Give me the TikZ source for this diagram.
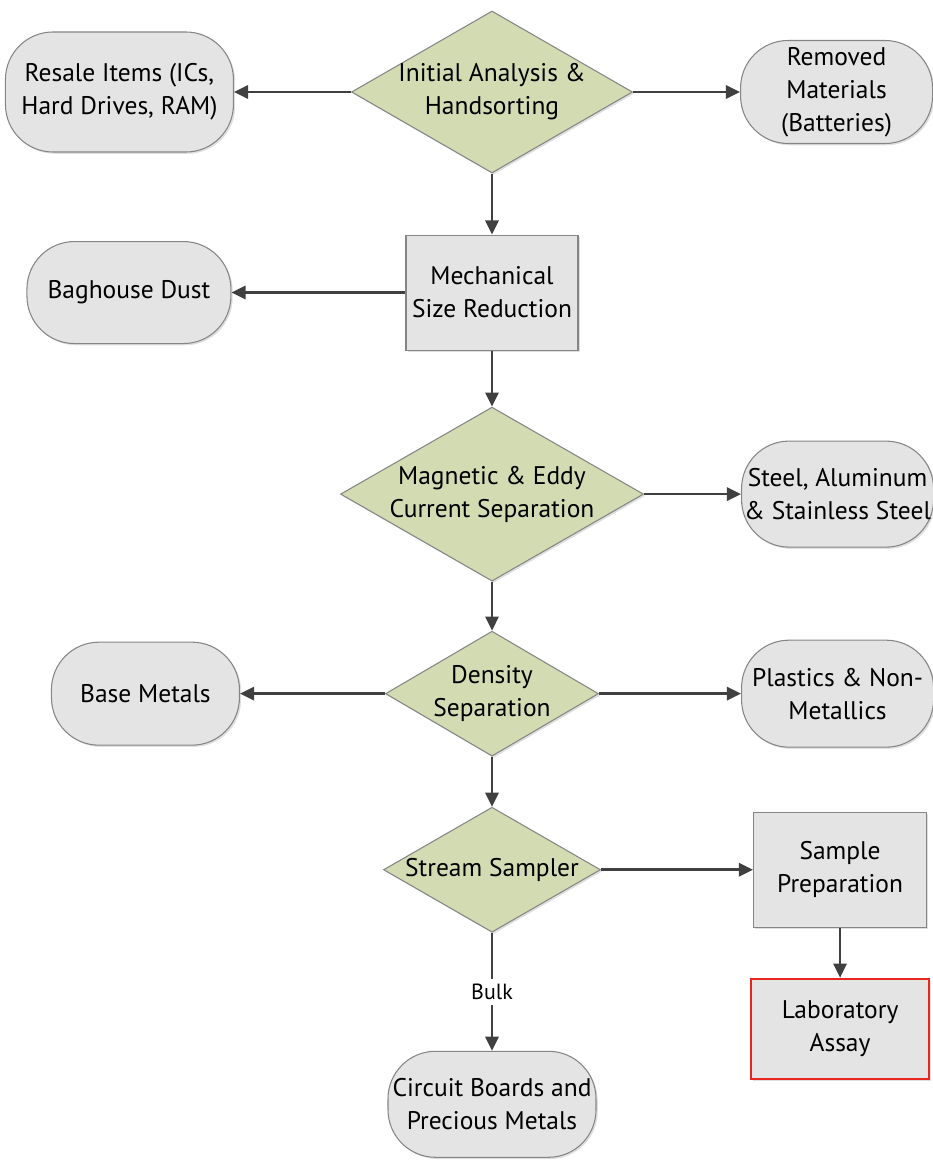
\documentclass[tikz,border=0pt]{standalone}
\usepackage{fontspec}
\setmainfont{PT Sans}
\usetikzlibrary{
  positioning,
  shapes.geometric,
  arrows.meta,
  shadows,
}
\definecolor{decisiongreen}{HTML}{D3DBB3}
\definecolor{boxgray}{HTML}{E4E4E4}
\definecolor{edgegray}{HTML}{858585}
\definecolor{arrowgray}{HTML}{404040}
\definecolor{assayred}{HTML}{E8251F}
\tikzset{
  base/.style={draw=edgegray, line width=0.6pt, align=center, inner sep=0pt,
    font=\fontsize{14.5}{18.8}\selectfont,
    drop shadow={shadow xshift=1pt, shadow yshift=-1pt, opacity=0.25}},
  decision/.style={base, diamond, aspect=1.74, inner sep=-0.5cm, fill=decisiongreen},
  process/.style={base, rectangle, fill=boxgray},
  outcome/.style={base, rectangle, rounded corners=0.95cm, fill=boxgray},
  flow/.style={draw=arrowgray, line width=1.4pt, -{Triangle[length=8pt,width=7.5pt]}},
}

\begin{document}
\begin{tikzpicture}
    \useasboundingbox (0,0) rectangle (18.64,-23.22);
    \node [decision, minimum width=5.62cm, minimum height=3.24cm] (IA) at (9.84,-1.84) {Initial Analysis \&\\Handsorting};
    \node [outcome, minimum width=4.56cm, minimum height=2.4cm, left=2.34cm of IA] (RI) {Resale Items (ICs,\\Hard Drives, RAM)};
    \node [outcome, minimum width=3.84cm, minimum height=2.06cm, right=2.14cm of IA] (RM) {Removed\\Materials\\(Batteries)};
    \node [process, minimum width=3.44cm, minimum height=2.3cm, below=1.22cm of IA] (MR) {Mechanical\\Size Reduction};
    \node [outcome, minimum width=4.08cm, minimum height=2.04cm, left=3.48cm of MR] (BD) {Baghouse Dust};
    \node [decision, minimum width=6.06cm, minimum height=3.48cm, below=1.12cm of MR] (ME) {Magnetic \& Eddy\\Current Separation};
    \node [outcome, minimum width=3.84cm, minimum height=2.12cm, right=1.94cm of ME] (SA) {Steel, Aluminum\\\& Stainless Steel};
    \node [decision, minimum width=4.26cm, minimum height=2.5cm, below=0.98cm of ME] (DS) {Density\\Separation};
    \node [outcome, minimum width=3.76cm, minimum height=2.06cm, left=2.9cm of DS] (BM) {Base Metals};
    \node [outcome, minimum width=3.84cm, minimum height=2.14cm, right=2.84cm of DS] (PN) {Plastics \& Non-\\Metallics};
    \node [decision, minimum width=4.34cm, minimum height=2.5cm, below=1.0cm of DS] (SS) {Stream Sampler};
    \node [process, minimum width=3.46cm, minimum height=2.3cm, right=3.04cm of SS] (SP) {Sample\\Preparation};
    \node [process, draw=assayred, line width=1.5pt, minimum width=3.56cm, minimum height=2.0cm, below=1.0cm of SP] (LA) {Laboratory\\Assay};
    \node [outcome, minimum width=4.16cm, minimum height=2.12cm, below=2.36cm of SS] (CB) {Circuit Boards and\\Precious Metals};
    \draw [flow] (IA) to (RI);
    \draw [flow] (IA) to (RM);
    \draw [flow] (IA) to (MR);
    \draw [flow] (MR) to (BD);
    \draw [flow] (MR) to (ME);
    \draw [flow] (ME) to (SA);
    \draw [flow] (ME) to (DS);
    \draw [flow] (DS) to (BM);
    \draw [flow] (DS) to (PN);
    \draw [flow] (DS) to (SS);
    \draw [flow] (SS) to (SP);
    \draw [flow] (SP) to (LA);
    \draw [flow] (SS) to node [fill=white, inner sep=3pt, font=\fontsize{12.5}{14}\selectfont] (bulk) {Bulk} (CB);
  \end{tikzpicture}
\end{document}
